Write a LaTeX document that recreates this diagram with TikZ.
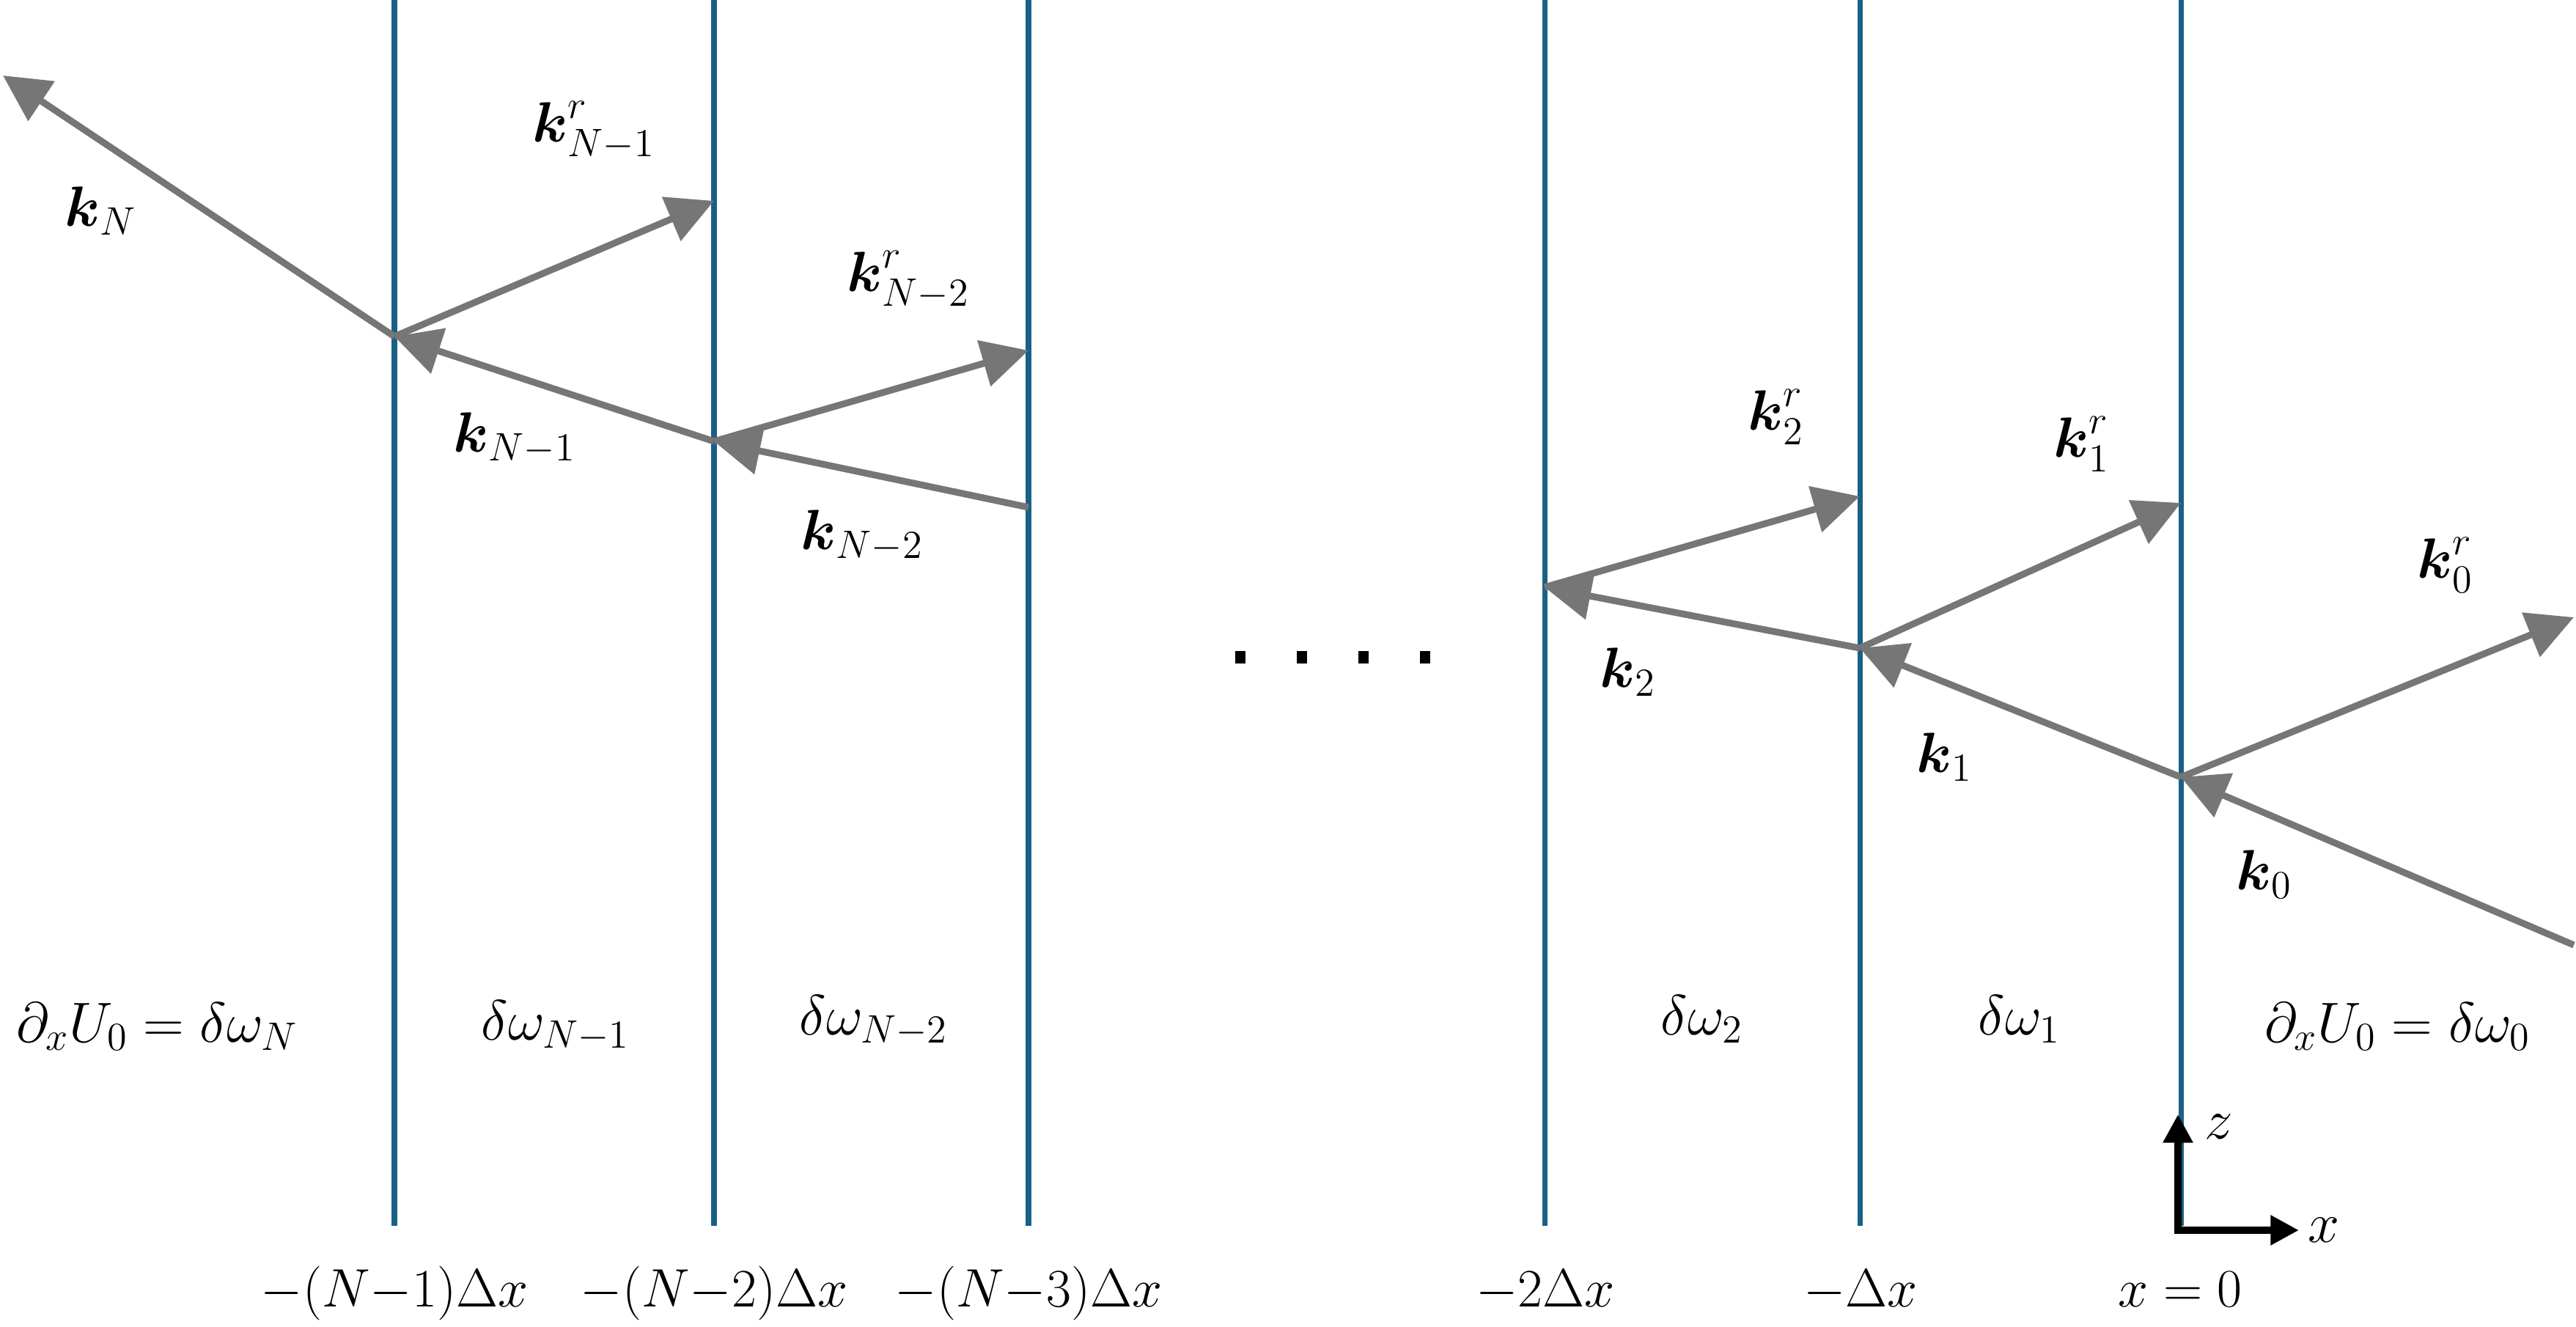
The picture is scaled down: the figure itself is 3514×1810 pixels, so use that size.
\RequirePackage{fix-cm}
\documentclass[tikz,border=0pt]{standalone}
\usepackage{amsmath}
\usetikzlibrary{arrows.meta}
\definecolor{layer}{RGB}{26,96,134}
\definecolor{wave}{RGB}{118,118,118}
\newcommand\kk{\boldsymbol{k}}
\tikzset{
  layerline/.style={draw=layer, line width=2pt},
  wavearrow/.style={draw=wave, line width=2.6pt, -{Triangle[length=18pt,width=18pt]}},
  axisline/.style={draw=black, line width=2.8pt, line join=miter,
    {Triangle[length=11pt,width=11pt]}-{Triangle[length=11pt,width=11pt]}},
  lbl/.style={inner sep=0pt, anchor=base west, font=\fontsize{22}{27}\selectfont},
  posl/.style={inner sep=0pt, anchor=base, font=\fontsize{21}{26}\selectfont},
  axl/.style={inner sep=0pt, anchor=center, font=\fontsize{22}{27}\selectfont},
  dotmark/.style={fill=black}
}
\begin{document}
\begin{tikzpicture}[x=0.01cm,y=-0.01cm]
\useasboundingbox (0,0) rectangle (3514,1810);
% layer lines
\foreach \n/\xx in {1/538,2/974,3/1403,4/2107,5/2537,6/2975}{
  \coordinate (t\n) at (\xx,0);
  \coordinate (b\n) at (\xx,1672);
  \draw[layerline] (t\n) -- (b\n);
}
% wave coordinates
\coordinate (TN) at (4,103);
\coordinate (J1) at (538,459);
\coordinate (R2) at (974,274);
\coordinate (J2) at (974,602);
\coordinate (R3) at (1403,478);
\coordinate (E3) at (1403,692);
\coordinate (J4) at (2107,801);
\coordinate (R4) at (2537,677);
\coordinate (J5) at (2537,884);
\coordinate (R5) at (2975,686);
\coordinate (J6) at (2975,1060);
\coordinate (R6) at (3511,842);
\coordinate (S0) at (3511,1289);
% waves
\draw[wavearrow] (J1) -- (TN);
\draw[wavearrow] (J1) -- (R2);
\draw[wavearrow] (J2) -- (J1);
\draw[wavearrow] (J2) -- (R3);
\draw[wavearrow] (E3) -- (J2);
\draw[wavearrow] (J5) -- (J4);
\draw[wavearrow] (J4) -- (R4);
\draw[wavearrow] (J6) -- (J5);
\draw[wavearrow] (J5) -- (R5);
\draw[wavearrow] (S0) -- (J6);
\draw[wavearrow] (J6) -- (R6);
% wave labels
\node[lbl] (lkN) at (88,309) {$\kk_{N}$};
\node[lbl] (lkrN1) at (726,194) {$\kk^{r}_{N-1}$};
\node[lbl] (lkrN2) at (1155,398) {$\kk^{r}_{N-2}$};
\node[lbl] (lkN1) at (618,617) {$\kk_{N-1}$};
\node[lbl] (lkN2) at (1092,750) {$\kk_{N-2}$};
\node[lbl] (lkr2) at (2384,587) {$\kk^{r}_{2}$};
\node[lbl] (lkr1) at (2801,624) {$\kk^{r}_{1}$};
\node[lbl] (lkr0) at (3297,789) {$\kk^{r}_{0}$};
\node[lbl] (lk2) at (2182,938) {$\kk_{2}$};
\node[lbl] (lk1) at (2614,1054) {$\kk_{1}$};
\node[lbl] (lk0) at (3050,1214) {$\kk_{0}$};
% region labels
\node[lbl] (rN) at (22,1421) {$\partial_x U_0 = \delta\omega_N$};
\node[lbl] (rN1) at (656,1418) {$\delta\omega_{N-1}$};
\node[lbl] (rN2) at (1090,1411) {$\delta\omega_{N-2}$};
\node[lbl] (r2) at (2265,1411) {$\delta\omega_{2}$};
\node[lbl] (r1) at (2698,1411) {$\delta\omega_{1}$};
\node[lbl] (r0) at (3089,1421) {$\partial_x U_0 = \delta\omega_0$};
% positions
\node[posl] (p1) at (538,1782) {$-(N{-}1)\Delta x$};
\node[posl] (p2) at (974,1782) {$-(N{-}2)\Delta x$};
\node[posl] (p3) at (1403,1782) {$-(N{-}3)\Delta x$};
\node[posl] (p4) at (2108,1782) {$-2\Delta x$};
\node[posl] (p5) at (2538,1782) {$-\Delta x$};
\node[posl] (p6) at (2974,1782) {$x = 0$};
% dots
\foreach \xx in {1692,1776,1860,1944}{\fill[dotmark] (\xx-7,888) rectangle (\xx+7,905);}
% axes
\coordinate (O) at (2971,1678);
\coordinate (zt) at (2971,1520);
\coordinate (xt) at (3136,1678);
\draw[axisline] (zt) -- (O) -- (xt);
\node[axl] (zl) at (3027,1537) {$z$};
\node[axl] (xl) at (3170,1678) {$x$};
\end{tikzpicture}
\end{document}
